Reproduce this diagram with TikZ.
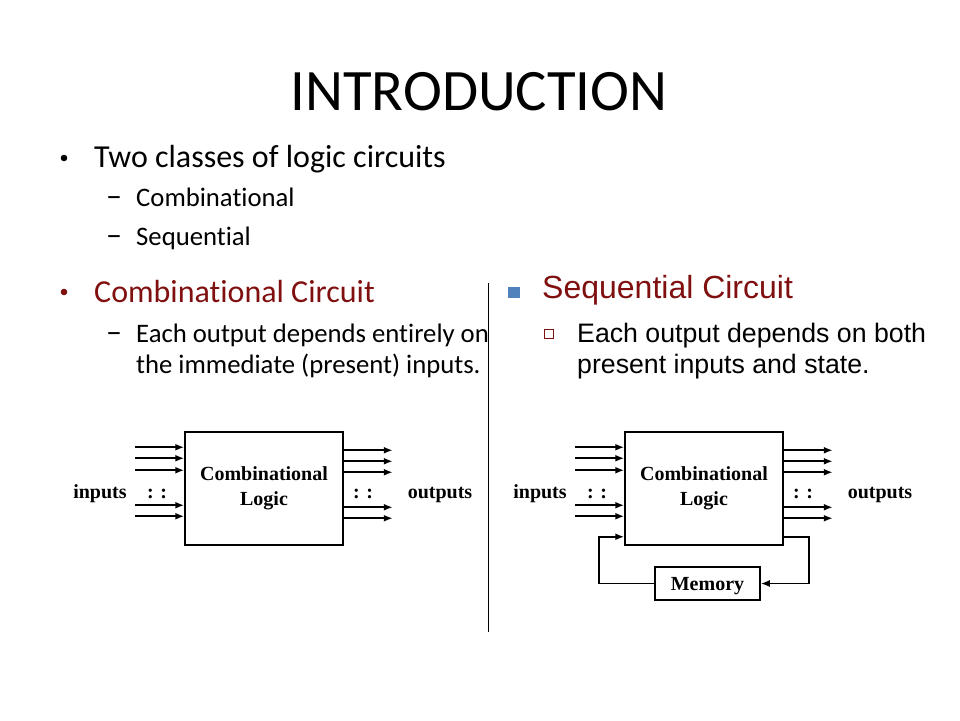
\documentclass[tikz,border=0pt]{standalone}
\usepackage{fontspec}
\setmainfont{Carlito}[Ligatures=NoCommon]
\newfontfamily\arialfont{Liberation Sans}
\newfontfamily\timesfont{Liberation Serif}
\usetikzlibrary{arrows.meta,positioning}
\definecolor{slidered}{RGB}{128,16,16}
\definecolor{slideblue}{RGB}{79,129,189}

\begin{document}
\begin{tikzpicture}[x=1pt,y=-1pt,
    headline/.style={anchor=base,inner sep=0pt,font=\fontsize{58.7}{70}\selectfont},
    lvlone/.style={anchor=base west,inner sep=0pt,font=\fontsize{32}{38}\selectfont},
    lvltwo/.style={anchor=base west,inner sep=0pt,font=\fontsize{26.7}{31}\selectfont},
    logicbox/.style={draw,line width=1.5pt,minimum width=158pt,minimum height=113pt,
        align=center,inner sep=0pt,font=\timesfont\bfseries\fontsize{20}{25}\selectfont},
    lbl/.style={anchor=base,inner sep=0pt,font=\timesfont\bfseries\fontsize{20}{24}\selectfont},
    sig/.style={line width=1.8pt,-{Latex[length=9pt,width=7pt]}}]
    \fill[white] (0,0) rectangle (960,720);
    \useasboundingbox (0,0) rectangle (960,720);

    \node[headline] (title) at (479,110) {INTRODUCTION};

    % left column
    \fill (64,158) circle (3.3);
    \node[lvlone] (classes) at (94,167) {Two classes of logic circuits};
    \node[lvlone,anchor=base] (d1) at (114,206) {–};
    \node[lvltwo] (comb) at (136,206) {Combinational};
    \node[lvlone,anchor=base] (d2) at (114,245) {–};
    \node[lvltwo] (seq) at (136,245) {Sequential};
    \begin{scope}[color=slidered]
        \fill (64,292) circle (3.3);
        \node[lvlone] (combhead) at (94,302) {Combinational Circuit};
    \end{scope}
    \node[lvlone,anchor=base] (d3) at (114,342) {–};
    \node[lvltwo] (combtxt) at (136,342) {Each output depends entirely on};
    \node[lvltwo] (combtxt2) at ([yshift=-31pt]combtxt.base west) {the immediate (present) inputs.};

    % right column
    \fill[slideblue] (508,287) rectangle (520,298);
    \node[lvlone,font=\arialfont\fontsize{32}{38}\selectfont,color=slidered] (seqhead) at (542,298) {Sequential Circuit};
    \draw[slidered,line width=0.8pt] (544,329) rectangle (553,338);
    \node[lvltwo,font=\arialfont\fontsize{26.7}{31}\selectfont] (seqtxt) at (577,342) {Each output depends on both};
    \node[lvltwo,font=\arialfont\fontsize{26.7}{31}\selectfont] (seqtxt2) at ([yshift=-31pt]seqtxt.base west) {present inputs and state.};

    \draw[line width=0.8pt] (488,283) -- (488,632);

    % the two logic blocks
    \foreach \dx/\nm in {0/cl,440/sq} {
        \node[logicbox] (\nm) at (264+\dx,488.5) {Combinational\\Logic};
        \foreach \dy in {16,27,39,74,85}
            \draw[sig] ([shift={(-49pt,-\dy pt)}]\nm.north west) -- ([yshift=-\dy pt]\nm.north west);
        \foreach \dy in {19,30,41,76,87}
            \draw[sig] ([yshift=-\dy pt]\nm.north east) -- ++(49,0);
        \node[lbl] (\nm-in) at (100+\dx,498) {inputs};
        \node[lbl] (\nm-ind) at (157+\dx,498) {: :};
        \node[lbl] (\nm-outd) at (363+\dx,498) {: :};
        \node[lbl] (\nm-out) at (440+\dx,498) {outputs};
    }

    % feedback through memory
    \node[draw,line width=1.5pt,minimum width=105pt,minimum height=33pt,inner sep=0pt,text depth=0pt,
        font=\timesfont\bfseries\fontsize{20}{24}\selectfont] (mem) at (707.5,583.5) {Memory};
    \draw[sig] ([yshift=9pt]sq.south east) -- ++(25,0) |- (mem.east);
    \draw[sig] (mem.west) -- ++(-55,0) |- ([yshift=9pt]sq.south west);
\end{tikzpicture}
\end{document}
